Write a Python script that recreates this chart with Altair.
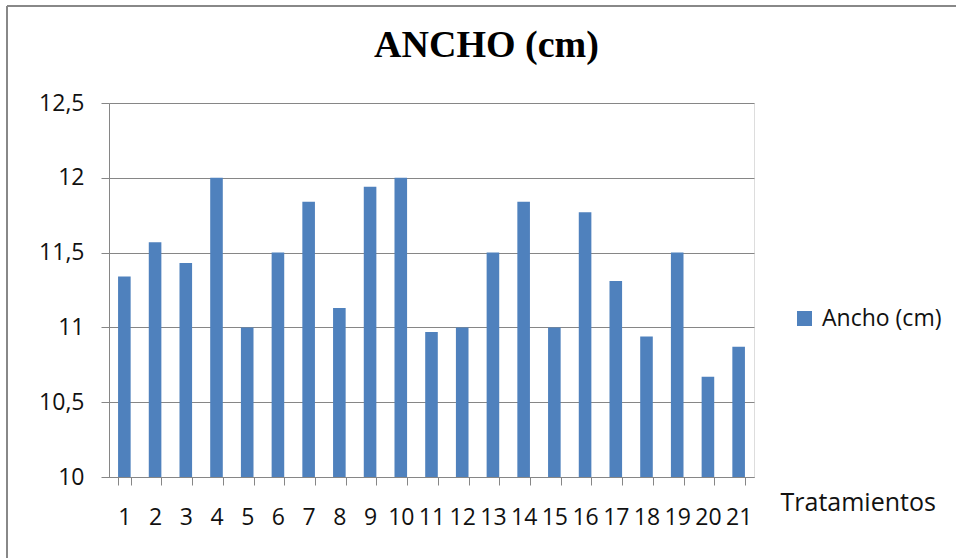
import altair as alt
import pandas as pd

tratamientos = [str(i) for i in range(1, 22)]
ancho = [11.34, 11.57, 11.43, 12.0, 11.0, 11.5, 11.84, 11.13, 11.94, 12.0,
         10.97, 11.0, 11.5, 11.84, 11.0, 11.77, 11.31, 10.94, 11.5, 10.67, 10.87]
serie = "Ancho (cm)"
y_ticks = [10, 10.5, 11, 11.5, 12, 12.5]

df = pd.DataFrame({"trat": tratamientos, "ancho": ancho, "serie": [serie] * len(ancho)})

FONT = "Open Sans"
GRID = "#868686"

bars = alt.Chart(df).mark_bar(clip=True).encode(
    x=alt.X("trat:N", sort=tratamientos,
            scale=alt.Scale(paddingInner=0.59, paddingOuter=0.295),
            axis=alt.Axis(title="Tratamientos", labelAngle=0, labelFont=FONT, labelFontSize=23,
                          labelColor="#111", labelPadding=21, tickBand="extent", tickSize=8,
                          tickColor=GRID, domainColor=GRID, grid=False,
                          titleFont=FONT, titleFontSize=25, titleFontWeight="normal",
                          titleColor="#111", titleAlign="left", titleBaseline="alphabetic",
                          titleX=671, titleY=33, titleAnchor="start")),
    y=alt.Y("ancho:Q", scale=alt.Scale(domain=[10, 12.5], nice=False, zero=False),
            axis=alt.Axis(title=None, values=y_ticks, labelFont=FONT, labelFontSize=23,
                          labelColor="#111", labelPadding=17, tickSize=8, tickColor=GRID,
                          domainColor=GRID, gridColor=GRID, gridWidth=1,
                          labelExpr="replace(toString(datum.value), '.', ',')")),
    color=alt.Color("serie:N", scale=alt.Scale(range=["#4F81BD"]),
                    legend=alt.Legend(title=None, orient="none", legendX=684, legendY=204,
                                      symbolType="square", symbolSize=225, symbolStrokeWidth=0,
                                      labelFont=FONT, labelFontSize=23, labelColor="#111",
                                      labelOffset=6, padding=0)),
)

frame_src = alt.Data(values=[{"k": 1}])
left_border = alt.Chart(frame_src).mark_rule(color="#888888", strokeWidth=2).encode(
    x=alt.value(-102), y=alt.value(-97), y2=alt.value(460))
top_border = alt.Chart(frame_src).mark_rule(color="#888888", strokeWidth=2).encode(
    x=alt.value(-102), x2=alt.value(850), y=alt.value(-97))

chart = alt.layer(bars, left_border, top_border).properties(
    width=645, height=374,
    title=alt.TitleParams("ANCHO (cm)", font="Liberation Serif", fontSize=38,
                          fontWeight="bold", color="#000", anchor="middle", dx=55,
                          frame="group", offset=-90, baseline="alphabetic"),
    autosize=alt.AutoSizeParams(type="none"),
    padding={"left": 109, "top": 103, "right": 202, "bottom": 81},
).configure_view(stroke=None).configure(background="white")

chart.save("out.html", embed_options={"renderer": "svg", "actions": False})
